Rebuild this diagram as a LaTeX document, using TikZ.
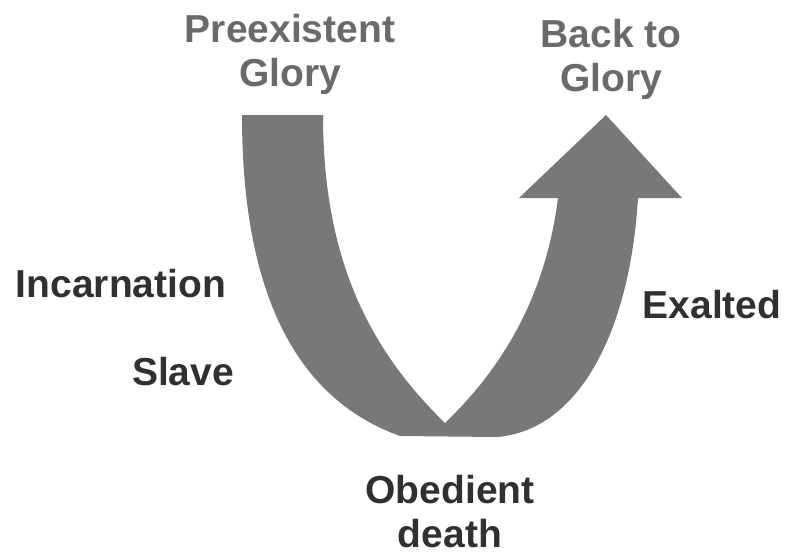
\documentclass[tikz,border=0pt]{standalone}
\usepackage{fontspec}
\setmainfont{Liberation Sans}
\definecolor{arrowgray}{HTML}{787878}
\definecolor{lightlabel}{HTML}{6A6A6A}
\definecolor{darklabel}{HTML}{303030}
\tikzset{
  lbl/.style={inner sep=0pt, font=\bfseries\fontsize{39}{44}\selectfont, align=center},
  toplbl/.style={lbl, text=lightlabel},
  sidelbl/.style={lbl, text=darklabel}
}
\begin{document}
\begin{tikzpicture}[x=1pt,y=-1pt]
\useasboundingbox (0,0) rectangle (785,557);
% U-shaped arrow
\fill[arrowgray] (242,115) -- (323,115)
  .. controls (323,260) and (370,350) .. (445,423)
  .. controls (500,370) and (545,300) .. (558,198)
  -- (519,198) -- (606,115) -- (682,198) -- (638,198)
  .. controls (630,330) and (580,430) .. (497,437)
  -- (400,436)
  .. controls (300,400) and (242,300) .. (242,115) -- cycle;
% labels
\node[toplbl, anchor=north] (pre) at (290,14) {Preexistent\\Glory};
\node[toplbl, anchor=north] (back) at (611,19) {Back to\\Glory};
\node[sidelbl, anchor=base] (inc) at (121,297) {Incarnation};
\node[sidelbl, anchor=base] (slave) at (183,385) {Slave};
\node[sidelbl, anchor=base] (exalt) at (712,318) {Exalted};
\node[sidelbl, anchor=north] (obed) at (450,475) {Obedient\\death};
\end{tikzpicture}
\end{document}
